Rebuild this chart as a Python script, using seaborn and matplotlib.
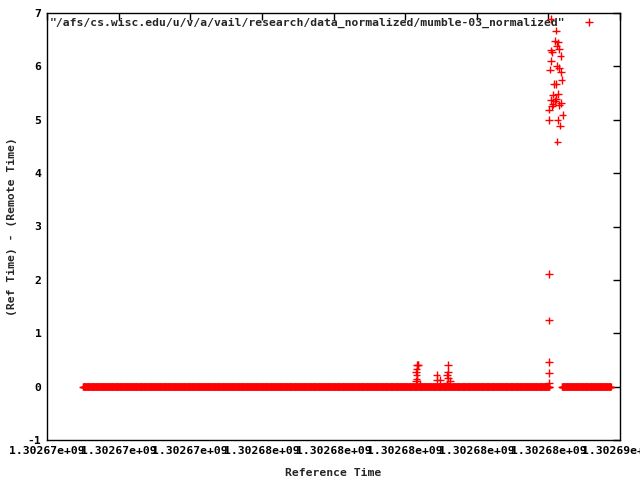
import numpy as np
import pandas as pd
import seaborn as sns
import matplotlib.pyplot as plt
from matplotlib.ticker import FuncFormatter, MultipleLocator

# sampling of the two flat stretches (seconds)
base1_start, base1_end = 1302671005, 1302684030
base2_start, base2_end = 1302684380, 1302685750
sample_period = 10

# excursions: (time, offset)
bump_t = [1302680302, 1302680322, 1302680350, 1302680322, 1302680302, 1302680322,
          1302680340, 1302680360, 1302680414, 1302680880, 1302680880, 1302680973,
          1302681204, 1302681204, 1302681177, 1302681204, 1302681252, 1302681159]
bump_v = [0.27, 0.21, 0.41, 0.14, 0.10, 0.33, 0.40, 0.40, 0.05, 0.22, 0.13, 0.12,
          0.41, 0.27, 0.22, 0.16, 0.10, 0.06]

spike_t = [1302684024, 1302684024, 1302684024, 1302684024, 1302684024,
           1302684063, 1302684211, 1302684183, 1302684276, 1302684231, 1302684303,
           1302684072, 1302684108, 1302684343, 1302684072, 1302684231, 1302684303,
           1302684044, 1302684351, 1302684370, 1302684155, 1302684211, 1302684136,
           1302684276, 1302684211, 1302684063, 1302684351, 1302684108, 1302684303,
           1302684024, 1302684398, 1302684024, 1302684259, 1302684320, 1302684250,
           1302684190, 1302684120]
spike_v = [2.11, 1.24, 0.46, 0.26, 0.07,
           6.89, 6.67, 6.47, 6.45, 6.39, 6.33,
           6.30, 6.26, 6.20, 6.10, 6.01, 5.97,
           5.94, 5.90, 5.74, 5.67, 5.67, 5.47,
           5.48, 5.39, 5.37, 5.31, 5.25, 5.28,
           5.19, 5.09, 5.00, 5.00, 4.89, 4.59,
           5.35, 5.30]

label = '"/afs/cs.wisc.edu/u/v/a/vail/research/data_normalized/mumble-03_normalized"'

t1 = np.arange(base1_start, base1_end, sample_period)
t2 = np.arange(base2_start, base2_end, sample_period)
df = pd.DataFrame({
    "t": np.concatenate([t1, t2, bump_t, spike_t]),
    "v": np.concatenate([np.zeros(len(t1)), np.zeros(len(t2)), bump_v, spike_v]),
})
df["src"] = label

sns.set_style("white")
plt.rcParams["font.family"] = ["DejaVu Sans Mono"]
plt.rcParams["font.weight"] = "bold"
plt.rcParams["font.size"] = 8.2

fig = plt.figure(figsize=(6.4, 4.8), dpi=100)
ax = fig.add_axes([47 / 640, 40 / 480, 573 / 640, 427 / 480])

sns.scatterplot(data=df, x="t", y="v", hue="src", palette=["#ff0000"],
                marker="+", s=30, linewidth=1.0, ax=ax)

ax.set_xlim(1302670000, 1302686000)
ax.set_ylim(-1, 7)
ax.xaxis.set_major_locator(MultipleLocator(2000))
ax.yaxis.set_major_locator(MultipleLocator(1))
ax.xaxis.set_major_formatter(FuncFormatter(lambda v, p: "%g" % v))
ax.yaxis.set_major_formatter(FuncFormatter(lambda v, p: "%g" % v))
ax.tick_params(direction="in", length=5, width=1, top=True, right=True,
               colors="black", labelsize=8.2, pad=4)
for s in ax.spines.values():
    s.set_color("black")
    s.set_linewidth(1)

ax.set_xlabel("Reference Time", fontsize=8.2, fontweight="bold", labelpad=9)
ax.set_ylabel("(Ref Time) - (Remote Time)", fontsize=8.2, fontweight="bold", labelpad=8)

leg = ax.legend(loc="upper right", frameon=False, markerfirst=False,
                fontsize=8.2, handletextpad=1.05, borderaxespad=0.2,
                bbox_to_anchor=(0.978, 1.005))

fig.savefig("out.png", dpi=100)
